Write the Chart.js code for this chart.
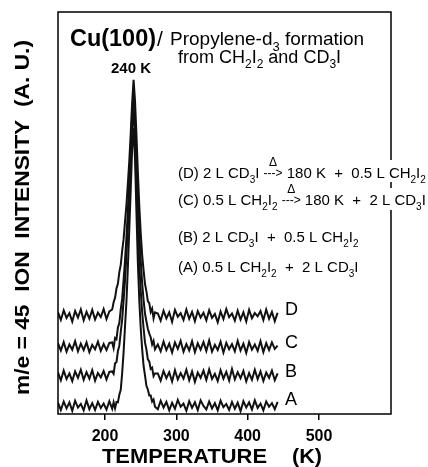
<!DOCTYPE html>
<html>
<head>
<meta charset="utf-8">
<script src="https://cdn.jsdelivr.net/npm/chart.js@4.4.1/dist/chart.umd.min.js"></script>
<style>
  html, body { margin: 0; padding: 0; background: #fff; }
  #wrap { width: 428px; height: 467px; }
</style>
</head>
<body>
<div id="wrap"><canvas id="tpd" width="428" height="467"></canvas></div>
<script>
// Temperature grid (K), coarse on the baselines, finer across the 240 K peak
const temps = [
  134, 138, 142, 146, 150, 154, 158, 162, 166, 170, 174, 178, 182, 186, 190, 194, 198, 202, 206,
  210, 212, 214, 216, 218, 220, 222, 224, 226, 228, 230, 232, 234, 236, 238, 240, 242, 244, 246,
  248, 250, 252, 254, 256, 258, 260, 262, 264, 266, 268, 270,
  274, 278, 282, 286, 290, 294, 298, 302, 306, 310, 314, 318, 322, 326, 330, 334, 338, 342, 346,
  350, 354, 358, 362, 366, 370, 374, 378, 382, 386, 390, 394, 398, 402, 406, 410, 414, 418, 422,
  426, 430, 434, 438, 442
];

// m/e = 45 intensity (a.u., traces offset vertically)
const traceA = [
  2.8, 1.0, 3.1, 1.4, 2.9, 0.8, 3.3, 1.6, 2.5, 0.9, 3.4, 1.2, 2.7, 1.0, 3.0, 1.5, 2.6, 1.1, 3.2,
  1.3, 2.9, 1.4, 3.0, 2.9, 4.8, 6.0, 10.2, 15.4, 21.8, 28.0, 36.5, 46.0, 55.8, 66.0, 71.1, 63.5, 50.2, 37.6,
  28.3, 21.4, 16.2, 12.0, 9.6, 7.0, 6.1, 4.6, 4.6, 3.1, 3.6, 1.8,
  1.2, 3.3, 1.6, 3.0, 0.9, 2.8, 1.3, 3.5, 1.8, 2.6, 0.8, 3.2, 1.5, 2.9, 1.0, 3.4, 2.0, 1.1, 3.1,
  1.4, 2.7, 0.9, 3.3, 1.7, 2.5, 1.0, 3.0, 1.3, 2.8, 0.7, 3.2, 1.6, 2.9, 1.1, 3.4, 1.5, 2.6, 0.9,
  3.1, 1.8, 2.7, 1.2, 3.0
];
const traceB = [
  10.3, 8.4, 10.8, 8.7, 10.1, 8.2, 10.6, 9.0, 11.0, 8.5, 10.4, 8.8, 10.9, 8.3, 10.2, 9.1, 10.7, 8.6, 10.5,
  10.6, 10.0, 12.6, 12.9, 15.6, 17.0, 20.4, 23.5, 28.3, 33.2, 39.6, 46.5, 54.8, 62.7, 71.6, 75.5, 68.0, 56.9, 46.1,
  37.2, 30.8, 25.4, 21.4, 17.8, 16.0, 13.6, 13.1, 11.2, 11.5, 9.4, 10.1,
  10.1, 8.3, 10.7, 8.9, 10.4, 8.1, 10.9, 8.6, 10.2, 8.8, 11.0, 8.4, 10.6, 8.0, 10.3, 9.0, 10.8, 8.5, 11.1,
  8.7, 10.0, 8.2, 10.9, 8.8, 10.5, 8.3, 11.2, 8.6, 10.4, 8.9, 10.7, 8.1, 10.2, 8.5, 11.0, 8.7, 10.6, 8.2,
  10.3, 9.0, 10.8, 8.4, 10.1
];
const traceC = [
  17.6, 15.8, 17.9, 15.5, 17.3, 16.0, 18.1, 15.6, 17.5, 15.9, 17.8, 15.4, 17.2, 16.1, 18.0, 15.7, 17.4, 15.9, 17.7,
  17.8, 16.4, 18.9, 18.6, 21.5, 22.6, 26.0, 28.7, 33.4, 38.2, 44.1, 50.6, 58.3, 66.0, 74.9, 79.4, 73.0, 63.1, 53.4,
  44.9, 38.3, 32.6, 28.4, 25.0, 23.0, 21.2, 20.0, 19.1, 17.3, 18.2, 16.1,
  17.3, 15.6, 18.0, 15.9, 17.5, 15.3, 17.8, 16.2, 18.2, 15.5, 17.4, 15.8, 18.1, 15.4, 17.6, 16.0, 17.9, 15.7, 18.3,
  15.5, 17.2, 15.9, 18.0, 15.3, 17.7, 16.1, 17.4, 15.6, 18.2, 15.8, 17.5, 15.2, 17.9, 16.0, 17.3, 15.7, 18.1, 15.4,
  17.6, 15.9, 17.8, 16.2, 17.0
];
const traceD = [
  25.3, 23.4, 25.8, 23.9, 25.1, 23.0, 25.6, 24.0, 26.0, 23.3, 25.4, 23.7, 25.9, 23.5, 25.2, 24.1, 26.1, 23.6, 25.5,
  26.0, 27.8, 28.9, 31.2, 32.4, 35.3, 37.1, 40.6, 43.5, 47.9, 52.0, 57.4, 63.0, 69.8, 77.5, 83.1, 78.0, 69.5, 60.2,
  51.8, 45.1, 39.6, 35.8, 32.4, 30.5, 28.1, 27.6, 25.4, 26.2, 23.8, 25.3,
  25.0, 23.2, 25.7, 23.8, 25.3, 22.9, 25.9, 24.2, 25.1, 23.4, 26.0, 23.7, 25.4, 23.1, 25.6, 24.0, 25.2, 23.3, 25.8,
  23.9, 24.9, 22.8, 25.5, 23.6, 26.1, 24.1, 25.0, 23.2, 25.7, 23.5, 25.3, 23.0, 25.9, 23.8, 25.1, 24.3, 25.6, 23.4,
  26.0, 23.7, 25.4, 23.1, 25.2
];

const traceNames = ["A", "B", "C", "D"];
const tickTemps = [200, 300, 400, 500];

const FONT = "'Liberation Sans', Arial, Helvetica, sans-serif";

function toPoints(values) {
  return values.map((v, i) => ({ x: temps[i], y: v }));
}

// draws a line of text with subscripts ("s") and a heating arrow ("a")
function drawRich(ctx, x, y, parts, size) {
  let cx = x;
  parts.forEach(([txt, kind]) => {
    if (kind === "s") {
      ctx.font = `${Math.round(size * 0.68)}px ${FONT}`;
      ctx.fillText(txt, cx, y + size * 0.3);
      cx += ctx.measureText(txt).width;
    } else if (kind === "a") {
      ctx.font = `${Math.round(size * 0.8)}px ${FONT}`;
      const w = ctx.measureText(txt).width;
      ctx.fillText(txt, cx, y - size * 0.05);
      ctx.font = `${Math.round(size * 0.78)}px ${FONT}`;
      ctx.textAlign = "center";
      ctx.fillText("\u0394", cx + w / 2, y - size * 0.78);
      ctx.textAlign = "left";
      cx += w;
    } else {
      ctx.font = `${size}px ${FONT}`;
      ctx.fillText(txt, cx, y);
      cx += ctx.measureText(txt).width;
    }
  });
  return cx - x;
}

function fitText(ctx, txt, x, y, width) {
  const w = ctx.measureText(txt).width;
  ctx.save();
  ctx.translate(x, y);
  ctx.scale(width / w, 1);
  ctx.fillText(txt, 0, 0);
  ctx.restore();
}

const figureText = {
  id: "figureText",
  beforeDraw(chart) {
    const ctx = chart.ctx;
    ctx.save();
    ctx.fillStyle = "#fff";
    ctx.fillRect(0, 0, chart.width, chart.height);
    ctx.restore();
  },
  afterDraw(chart) {
    const ctx = chart.ctx;
    const a = chart.chartArea;
    ctx.save();

    // frame
    ctx.strokeStyle = "#000";
    ctx.lineWidth = 1.5;
    ctx.strokeRect(a.left, a.top, a.right - a.left, a.bottom - a.top);

    ctx.fillStyle = "#000";
    ctx.textAlign = "left";
    ctx.textBaseline = "alphabetic";

    // title
    ctx.font = `bold 23px ${FONT}`;
    fitText(ctx, "Cu(100)", 70, 46, 86);
    ctx.font = `21px ${FONT}`;
    ctx.fillText("/", 157, 46);
    drawRich(ctx, 170, 45, [["Propylene-d", "n"], ["3", "s"], [" formation", "n"]], 19);
    drawRich(ctx, 178, 63, [["from CH", "n"], ["2", "s"], ["I", "n"], ["2", "s"], [" and CD", "n"], ["3", "s"], ["I", "n"]], 18);

    ctx.font = `bold 15px ${FONT}`;
    ctx.textAlign = "center";
    ctx.fillText("240 K", 131, 73);
    ctx.textAlign = "left";

    // white gaps where the long lines cross the right border
    ctx.fillStyle = "#fff";
    ctx.fillRect(384, 160, 44, 22);
    ctx.fillRect(384, 188, 44, 22);
    ctx.fillStyle = "#000";

    drawRich(ctx, 178, 178, [["(D) 2 L CD", "n"], ["3", "s"], ["I ", "n"], ["--->", "a"],
      [" 180 K  +  0.5 L CH", "n"], ["2", "s"], ["I", "n"], ["2", "s"]], 15);
    drawRich(ctx, 178, 205, [["(C) 0.5 L CH", "n"], ["2", "s"], ["I", "n"], ["2", "s"], [" ", "n"], ["--->", "a"],
      [" 180 K  +  2 L CD", "n"], ["3", "s"], ["I", "n"]], 15);
    drawRich(ctx, 178, 242, [["(B) 2 L CD", "n"], ["3", "s"], ["I  +  0.5 L CH", "n"], ["2", "s"], ["I", "n"], ["2", "s"]], 15);
    drawRich(ctx, 178, 272, [["(A) 0.5 L CH", "n"], ["2", "s"], ["I", "n"], ["2", "s"], ["  +  2 L CD", "n"], ["3", "s"], ["I", "n"]], 15);

    // trace letters
    ctx.font = `18px ${FONT}`;
    const letterY = { A: 405, B: 377, C: 348, D: 315 };
    traceNames.forEach((n) => ctx.fillText(n, 285, letterY[n]));

    // axis titles
    ctx.font = `bold 20px ${FONT}`;
    fitText(ctx, "TEMPERATURE", 102, 463, 165);
    fitText(ctx, "(K)", 292, 463, 30);

    ctx.save();
    ctx.translate(29, 395);
    ctx.rotate(-Math.PI / 2);
    ctx.font = `bold 21px ${FONT}`;
    fitText(ctx, "m/e = 45  ION  INTENSITY  (A. U.)", 0, 0, 355);
    ctx.restore();

    ctx.restore();
  }
};

const lineStyle = {
  borderColor: "#111",
  borderWidth: 2,
  pointRadius: 0,
  fill: false,
  tension: 0
};

new Chart(document.getElementById("tpd"), {
  type: "line",
  data: {
    datasets: [
      { label: "A", data: toPoints(traceA), ...lineStyle },
      { label: "B", data: toPoints(traceB), ...lineStyle },
      { label: "C", data: toPoints(traceC), ...lineStyle },
      { label: "D", data: toPoints(traceD), ...lineStyle }
    ]
  },
  options: {
    responsive: false,
    animation: false,
    layout: { padding: { top: 12, right: 37, left: 0, bottom: 0 } },
    plugins: { legend: { display: false }, tooltip: { enabled: false } },
    scales: {
      x: {
        type: "linear",
        min: 134,
        max: 601,
        afterBuildTicks: (scale) => {
          scale.ticks = tickTemps.map((v) => ({ value: v }));
        },
        afterFit: (scale) => { scale.height = 53; },
        ticks: {
          color: "#000",
          padding: 7,
          maxRotation: 0,
          font: { family: FONT, size: 16, weight: "bold" }
        },
        grid: { drawOnChartArea: false, drawTicks: true, tickLength: 6, color: "#000", lineWidth: 1.5 },
        border: { display: false }
      },
      y: {
        min: 0,
        max: 100,
        afterFit: (scale) => { scale.width = 58; },
        ticks: { display: false },
        grid: { display: false },
        border: { display: false }
      }
    }
  },
  plugins: [figureText]
});
</script>
</body>
</html>
